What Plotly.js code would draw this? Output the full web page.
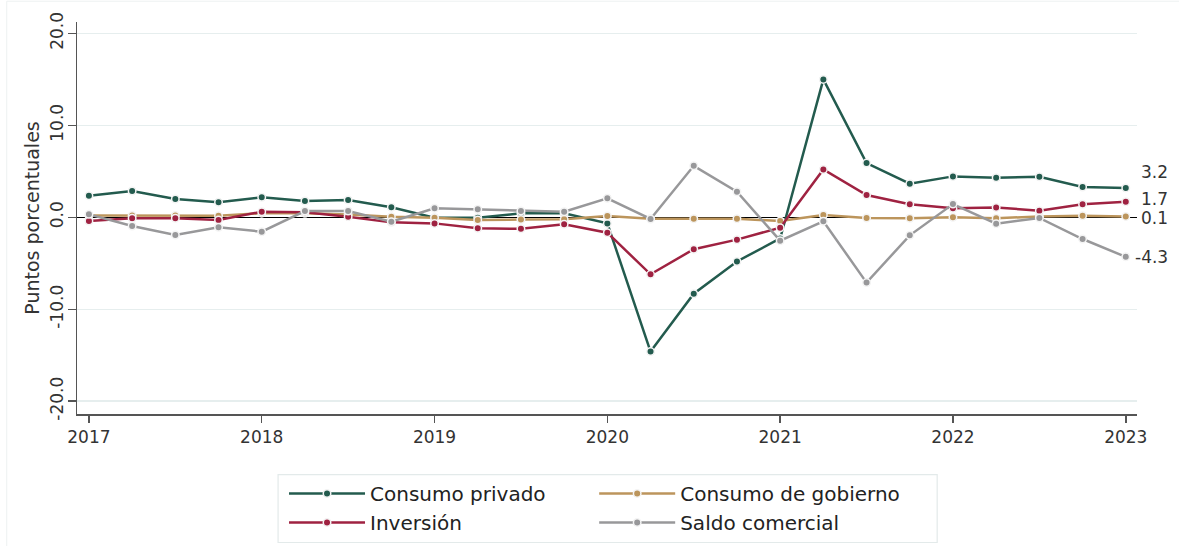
<!DOCTYPE html>
<html>
<head>
<meta charset="utf-8">
<script src="https://cdn.plot.ly/plotly-3.0.1.min.js"></script>
<style>
  html, body { margin: 0; padding: 0; background: #ffffff; }
  #chart { width: 1179px; height: 546px; }
</style>
</head>
<body>
<div id="chart"></div>
<script>
// Quarterly periods, 2017 Q1 - 2023 Q1 (decimal years)
const quarters = [
  2017.00, 2017.25, 2017.50, 2017.75,
  2018.00, 2018.25, 2018.50, 2018.75,
  2019.00, 2019.25, 2019.50, 2019.75,
  2020.00, 2020.25, 2020.50, 2020.75,
  2021.00, 2021.25, 2021.50, 2021.75,
  2022.00, 2022.25, 2022.50, 2022.75,
  2023.00
];

const consumoPrivado = [
  2.35, 2.86, 1.99, 1.63,
  2.17, 1.77, 1.88, 1.09,
  -0.04, -0.04, 0.43, 0.43,
  -0.66, -14.6, -8.3, -4.8,
  -2.3, 15.0, 5.9, 3.65,
  4.45, 4.3, 4.4, 3.3,
  3.2
];

const consumoGobierno = [
  0.2, 0.2, 0.2, 0.17,
  0.45, 0.43, 0.3, 0.07,
  -0.04, -0.29, -0.25, -0.22,
  0.14, -0.15, -0.15, -0.15,
  -0.4, 0.25, -0.07, -0.1,
  0.0, -0.1, 0.1, 0.18,
  0.1
];

const inversion = [
  -0.4, -0.1, -0.1, -0.3,
  0.61, 0.54, 0.07, -0.55,
  -0.66, -1.2, -1.25, -0.76,
  -1.67, -6.2, -3.47, -2.43,
  -1.13, 5.2, 2.42, 1.41,
  0.98, 1.08, 0.72, 1.41,
  1.7
];

const saldoComercial = [
  0.32, -0.94, -1.92, -1.09,
  -1.56, 0.68, 0.68, -0.47,
  0.98, 0.87, 0.68, 0.61,
  2.06, -0.18, 5.6, 2.78,
  -2.54, -0.43, -7.1, -1.96,
  1.44, -0.69, -0.07, -2.36,
  -4.3
];

const seriesNames = ["Consumo privado", "Consumo de gobierno", "Inversión", "Saldo comercial"];
const seriesColors = ["#235B4E", "#BC955C", "#9F2241", "#98989A"];
const seriesValues = [consumoPrivado, consumoGobierno, inversion, saldoComercial];
// legend column of each series (two-column legend)
const seriesLegend = ["legend", "legend2", "legend", "legend2"];
// vertical nudges (px) of the end labels to avoid overlap
const labelShift = [16, -2, 3, 0];

const yearTicks = [2017, 2018, 2019, 2020, 2021, 2022, 2023];
const yearTickText = ["2017", "2018", "2019", "2020", "2021", "2022", "2023"];
const yTicks = [-20, -10, 0, 10, 20];
const yTickText = ["-20.0", "-10.0", "0.0", "10.0", "20.0"];

const FONT = "DejaVu Sans, Noto Sans, sans-serif";
const TXT = "#333333";

const traces = seriesValues.map((vals, i) => ({
  type: "scatter",
  mode: "lines+markers",
  name: seriesNames[i],
  legend: seriesLegend[i],
  x: quarters,
  y: vals,
  line: { color: seriesColors[i], width: 2.5 },
  marker: { color: seriesColors[i], size: 7.5, line: { color: "#f4f4f4", width: 1.5 } },
  cliponaxis: false
}));

const annotations = seriesValues.map((vals, i) => ({
  x: quarters[quarters.length - 1],
  y: vals[vals.length - 1],
  xref: "x", yref: "y",
  text: vals[vals.length - 1].toFixed(1),
  showarrow: false,
  xanchor: "right",
  yanchor: "middle",
  xshift: 44,
  yshift: labelShift[i],
  font: { family: FONT, size: 17, color: TXT }
}));

const legendCommon = {
  orientation: "v",
  xanchor: "left",
  yref: "container",
  y: 0.132,
  yanchor: "top",
  borderwidth: 0,
  bgcolor: "rgba(0,0,0,0)",
  font: { family: FONT, size: 20, color: "#222222" },
  itemwidth: 76,
  traceorder: "normal"
};

const layout = {
  width: 1179,
  height: 546,
  margin: { l: 77, r: 42, t: 22, b: 132 },
  paper_bgcolor: "#ffffff",
  plot_bgcolor: "#ffffff",
  font: { family: FONT, color: TXT },
  showlegend: true,
  xaxis: {
    range: [2016.931, 2023.065],
    tickvals: yearTicks,
    ticktext: yearTickText,
    showgrid: false,
    zeroline: false,
    showline: true,
    linecolor: "#555555",
    linewidth: 1.5,
    ticks: "outside",
    ticklen: 7,
    tickwidth: 1.5,
    tickcolor: "#555555",
    tickfont: { family: FONT, size: 17, color: TXT }
  },
  yaxis: {
    range: [-21.39, 21.24],
    tickvals: yTicks,
    ticktext: yTickText,
    tickangle: -90,
    showgrid: true,
    gridcolor: "#e6eeee",
    gridwidth: 1.5,
    zeroline: true,
    zerolinecolor: "#000000",
    zerolinewidth: 1.5,
    showline: true,
    linecolor: "#555555",
    linewidth: 1.5,
    ticks: "outside",
    ticklen: 8,
    tickwidth: 1.5,
    tickcolor: "#555555",
    ticklabelstandoff: -2,
    tickfont: { family: FONT, size: 17, color: TXT },
    title: { text: "Puntos porcentuales", font: { family: FONT, size: 19, color: TXT }, standoff: 2 }
  },
  legend: Object.assign({}, legendCommon, { x: 0.1953 }),
  legend2: Object.assign({}, legendCommon, { x: 0.4879 }),
  annotations: annotations,
  shapes: [
    {
      type: "rect", xref: "paper", yref: "paper",
      x0: -0.0663, x1: 1.2, y0: -0.6, y1: 1.053,
      line: { color: "#edf1f1", width: 1 },
      fillcolor: "rgba(0,0,0,0)", layer: "below"
    },
    {
      type: "rect", xref: "paper", yref: "paper",
      x0: 0.1897, x1: 0.8115, y0: -0.3278, y1: -0.1546,
      line: { color: "#e3eaea", width: 1.2 },
      fillcolor: "rgba(0,0,0,0)", layer: "below"
    }
  ]
};

Plotly.newPlot("chart", traces, layout, { displayModeBar: false, staticPlot: true });
</script>
</body>
</html>
